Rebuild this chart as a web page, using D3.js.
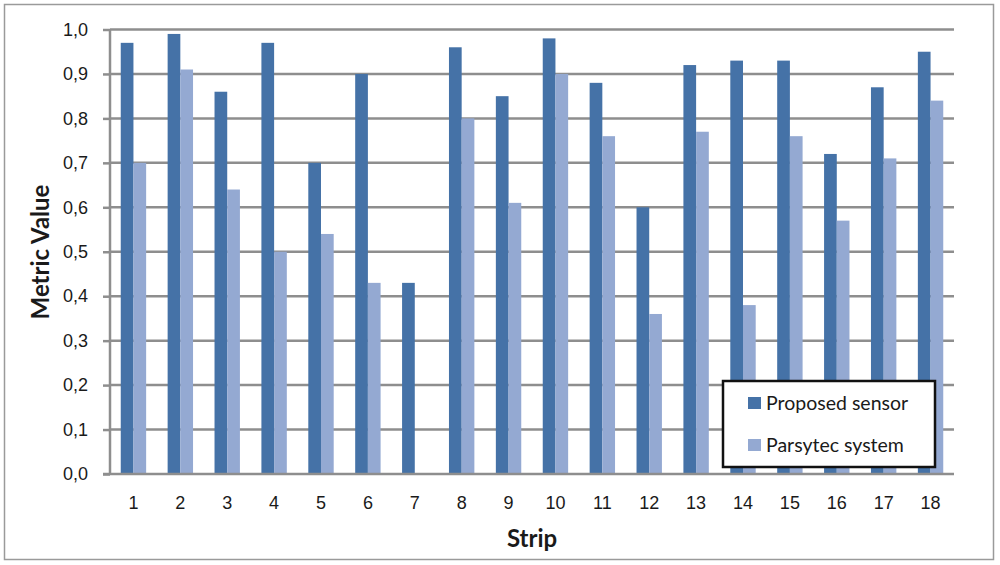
<!DOCTYPE html>
<meta charset="utf-8">
<style>
html, body { margin: 0; padding: 0; background: #fff; }
svg { font-family: Lato, "Open Sans", sans-serif; }
.grid line { stroke: #8e8e8e; stroke-width: 2.5px; }
.axis path, .axis line { stroke: #8e8e8e; stroke-width: 2.5px; }
.axis text { fill: #1a1a1a; font-size: 18px; }
</style>
<body>
<svg width="1000" height="565"></svg>
<script src="https://cdn.jsdelivr.net/npm/d3@7"></script>
<script>

// chart data
var strips = ["1","2","3","4","5","6","7","8","9","10","11","12","13","14","15","16","17","18"];
var proposed = [0.97, 0.99, 0.86, 0.97, 0.70, 0.90, 0.43, 0.96, 0.85, 0.98, 0.88, 0.60, 0.92, 0.93, 0.93, 0.72, 0.87, 0.95];
var parsytec = [0.70, 0.91, 0.64, 0.50, 0.54, 0.43, 0, 0.80, 0.61, 0.90, 0.76, 0.36, 0.77, 0.38, 0.76, 0.57, 0.71, 0.84];
var series_names = ["Proposed sensor", "Parsytec system"];
var y_ticks = [0, 0.1, 0.2, 0.3, 0.4, 0.5, 0.6, 0.7, 0.8, 0.9, 1.0];

var colours = ["#4572a7", "#94a9d2"];

var svg = d3.select("svg");

// outer frame
svg.append("rect")
    .attr("x", 4.5).attr("y", 4.5)
    .attr("width", 989).attr("height", 555)
    .attr("fill", "none")
    .attr("stroke", "#9a9a9a")
    .attr("stroke-width", 1.5);

var plot_left = 110, plot_right = 954, plot_top = 29.5, plot_bottom = 474;

var x = d3.scaleBand().domain(strips).range([plot_left, plot_right]);
var y = d3.scaleLinear().domain([0, 1]).range([plot_bottom, plot_top]);
var barW = 12.7;

// gridlines
svg.append("g").attr("class", "grid")
    .selectAll("line")
    .data(y_ticks.slice(1))
    .enter().append("line")
    .attr("x1", plot_left).attr("x2", plot_right)
    .attr("y1", function(d){ return y(d); })
    .attr("y2", function(d){ return y(d); });

// y axis
var yAxis = svg.append("g").attr("class", "axis")
    .attr("transform", "translate(" + plot_left + ",0)")
    .call(d3.axisLeft(y).tickValues(y_ticks).tickSize(7).tickPadding(15)
        .tickFormat(function(d){ return d3.format(".1f")(d).replace(".", ","); }));
yAxis.select(".domain").attr("d", "M0," + plot_top + "V" + plot_bottom);

// bars
var rows = strips.map(function(s, i){ return {strip: s, vals: [proposed[i], parsytec[i]]}; });

var groups = svg.append("g").selectAll("g")
    .data(rows)
    .enter().append("g")
    .attr("transform", function(d){ return "translate(" + (x(d.strip) + x.bandwidth()/2) + ",0)"; });

groups.selectAll("rect")
    .data(function(d){ return d.vals; })
    .enter().append("rect")
    .attr("x", function(d, i){ return i == 0 ? -barW : 0; })
    .attr("width", barW)
    .attr("y", function(d){ return y(d); })
    .attr("height", function(d){ return plot_bottom - y(d); })
    .attr("fill", function(d, i){ return colours[i]; });

// x axis
var xAxis = svg.append("g").attr("class", "axis")
    .attr("transform", "translate(0," + plot_bottom + ")")
    .call(d3.axisBottom(x).tickSize(0).tickPadding(22));
xAxis.select(".domain").attr("d", "M" + (plot_left - 7) + ",0H" + plot_right);

// axis titles
svg.append("text")
    .attr("transform", "translate(49,252) rotate(-90)")
    .attr("text-anchor", "middle")
    .attr("font-size", "24px")
    .attr("font-weight", "bold")
    .attr("fill", "#1a1a1a")
    .text("Metric Value");

svg.append("text")
    .attr("x", 532).attr("y", 547)
    .attr("text-anchor", "middle")
    .attr("font-size", "24px")
    .attr("font-weight", "bold")
    .attr("fill", "#1a1a1a")
    .text("Strip");

// legend
var legend = svg.append("g").attr("transform", "translate(723,381)");
legend.append("rect")
    .attr("width", 212).attr("height", 86)
    .attr("fill", "#fff")
    .attr("stroke", "#111")
    .attr("stroke-width", 2.5);

var items = legend.selectAll(".item")
    .data(series_names)
    .enter().append("g")
    .attr("transform", function(d, i){ return "translate(25," + (16 + i*42) + ")"; });
items.append("rect")
    .attr("width", 13).attr("height", 12)
    .attr("fill", function(d, i){ return colours[i]; });
items.append("text")
    .attr("x", 18).attr("y", 6)
    .attr("dy", "0.35em")
    .attr("font-size", "19.5px")
    .attr("fill", "#1a1a1a")
    .text(function(d){ return d; });
</script>
</body>
